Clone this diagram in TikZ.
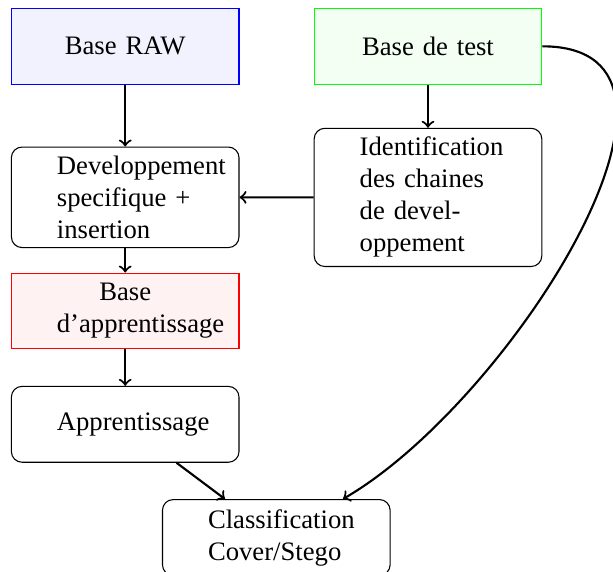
\documentclass[tikz,border=0pt]{standalone}
\usepackage{fontspec}
\setmainfont{Liberation Serif}
\begin{document}
\begin{tikzpicture}[x=0.375pt,y=-0.375pt,
  basebox/.style={draw, rectangle, minimum width=3cm, minimum height=1cm, text width=1.8cm, align=center},
  procbox/.style={draw, rectangle, rounded corners, minimum width=3cm, minimum height=1cm, text width=1.8cm, align=left},
  conn/.style={->, thick}]
\useasboundingbox (0,0) rectangle (613,571);
\node[basebox, draw=blue, fill=blue!5] (raw) at (125.2,46.3) {Base RAW};
\node[basebox, draw=green, fill=green!5] (test) at (428,46.3) {Base de test};
\node[procbox] (dev) at (125.2,197.3) {Developpement\\specifique +\\insertion};
\node[procbox] (ident) at (428,197.4) {Identification\\des chaines\\de devel-\\oppement};
\node[basebox, draw=red, fill=red!5] (bapp) at (125.2,311) {Base\\d'apprentissage};
\node[procbox] (app) at (125.2,424.3) {Apprentissage};
\node[procbox] (class) at (276.3,537.5) {Classification\\Cover/Stego};
\draw[conn] (raw) -- (dev);
\draw[conn] (test) -- (ident);
\draw[conn] (ident) -- (dev);
\draw[conn] (dev) -- (bapp);
\draw[conn] (bapp) -- (app);
\draw[conn] (app) -- (class);
\draw[conn] (test.east) to[out=0, in=30] (class);
\end{tikzpicture}
\end{document}
